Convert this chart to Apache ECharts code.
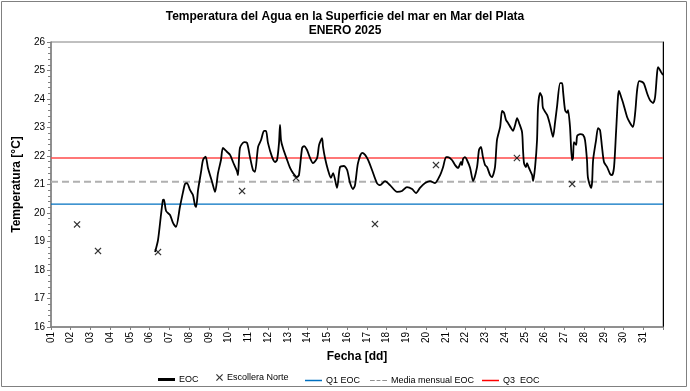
<!DOCTYPE html>
<html>
<head>
<meta charset="utf-8">
<script src="https://cdn.jsdelivr.net/npm/echarts@6/dist/echarts.min.js"></script>
<style>html,body{margin:0;padding:0;background:#fff}#c{width:690px;height:391px}</style>
</head>
<body>
<div id="c"></div>
<script>
// EOC (day of month, fractional) and temperature
const eocDay = [6.27,6.42,6.57,6.67,6.72,6.83,7.03,7.18,7.33,7.53,7.69,7.79,7.89,8.04,8.19,8.29,8.35,8.45,8.60,8.70,8.83,8.95,9.16,9.31,9.46,9.61,9.71,9.92,10.07,10.22,10.42,10.47,10.57,10.78,10.93,11.08,11.23,11.33,11.49,11.64,11.79,11.89,11.99,12.20,12.35,12.45,12.55,12.60,12.65,12.75,12.96,13.11,13.26,13.46,13.56,13.72,13.82,13.97,14.12,14.27,14.48,14.58,14.73,14.78,14.88,15.03,15.18,15.29,15.49,15.64,15.84,16.00,16.15,16.30,16.40,16.55,16.76,16.91,17.06,17.26,17.51,17.67,17.92,18.17,18.53,18.78,19.03,19.29,19.49,19.69,19.95,20.20,20.45,20.71,20.86,21.01,21.11,21.31,21.47,21.62,21.77,21.82,21.87,21.97,22.07,22.23,22.38,22.58,22.68,22.78,22.88,22.99,23.09,23.24,23.34,23.49,23.59,23.75,23.85,23.95,24.05,24.15,24.30,24.40,24.51,24.61,24.71,24.86,24.91,24.96,25.06,25.11,25.21,25.37,25.42,25.52,25.62,25.67,25.77,25.87,25.92,26.13,26.28,26.43,26.53,26.63,26.79,26.89,26.94,27.04,27.14,27.19,27.29,27.39,27.44,27.49,27.60,27.65,27.80,27.95,28.05,28.15,28.20,28.36,28.41,28.46,28.61,28.71,28.81,28.91,29.01,29.17,29.32,29.42,29.52,29.62,29.72,29.77,29.88,29.98,30.18,30.33,30.48,30.59,30.69,30.79,30.94,31.04,31.19,31.34,31.50,31.60,31.70,31.75,31.90,32.00];
const eocTemp = [18.63,19.05,19.93,20.46,20.47,20.07,19.93,19.65,19.51,20.21,20.74,21.02,21.05,20.81,20.63,20.28,20.21,20.81,21.44,21.86,21.98,21.58,21.09,20.74,21.40,21.86,22.28,22.14,22.04,21.79,21.47,21.33,22.28,22.49,22.46,21.96,21.51,21.44,22.32,22.56,22.88,22.88,22.46,21.96,21.79,21.86,22.46,23.09,22.56,22.28,21.86,21.58,21.40,21.26,21.33,22.28,22.35,22.21,21.93,21.75,21.93,22.39,22.63,22.32,21.93,21.51,21.23,21.40,20.88,21.61,21.65,21.51,21.05,20.84,20.98,21.75,22.11,22.04,21.86,21.51,21.05,20.98,21.12,20.98,20.74,20.77,20.91,20.84,20.70,20.88,21.05,21.12,21.05,21.33,21.61,21.96,21.96,21.86,21.68,21.58,21.79,21.68,21.89,21.96,21.86,21.58,21.12,21.61,22.21,22.32,21.96,21.68,21.61,21.33,21.26,21.61,22.56,23.02,23.58,23.51,23.26,23.16,22.98,22.88,23.09,23.33,23.16,22.84,22.21,21.75,21.61,21.75,21.58,21.33,21.12,21.61,22.56,23.72,24.21,24.07,23.68,23.44,23.09,22.67,23.16,23.72,24.56,24.56,24.25,23.61,23.51,23.61,23.02,21.86,21.93,22.49,22.39,22.70,22.77,22.74,22.56,21.86,21.23,20.88,21.09,21.86,22.56,22.98,22.91,22.32,21.79,21.61,21.37,21.33,21.61,22.81,24.07,24.28,24.07,23.86,23.37,23.16,23.02,23.51,24.32,24.63,24.60,24.53,24.21,23.96,23.86,24.07,24.91,25.12,24.95,24.84];
// Escollera Norte
const norteDay = [2.32,3.38,6.42,10.68,13.41,17.41,20.50,24.60,27.40];
const norteTemp = [19.6,18.67,18.63,20.77,21.23,19.61,21.68,21.93,21.02];
// reference levels
const q1EOC = 20.31;
const mediaMensualEOC = 21.10;
const q3EOC = 21.93;
const dayRange = [1, 32];
const yTicks = [16, 26];

const FONT = "'Liberation Sans Narrow','Arial Narrow','Liberation Sans',Arial,sans-serif";
const chart = echarts.init(document.getElementById('c'), null, {renderer: 'canvas'});
const xSym = 'path://M0,1.2L1.2,0L5,3.8L8.8,0L10,1.2L6.2,5L10,8.8L8.8,10L5,6.2L1.2,10L0,8.8L3.8,5Z';
const dashIcon = 'path://M0,0H5V1H0Z M7,0H11V1H7Z M13,0H18V1H13Z';

function leg(name, left, top, icon, w, h) {
  return {
    data: [name], left: left, top: top, icon: icon, itemWidth: w, itemHeight: h,
    itemGap: 4, padding: 0, textStyle: {fontFamily: FONT, fontSize: 9, color: '#000', padding: [0, 0, 0, -1]}
  };
}

chart.setOption({
  animation: false,
  backgroundColor: '#fff',
  textStyle: {fontFamily: FONT, color: '#000'},
  title: {
    text: 'Temperatura del Agua en la Superficie del mar en Mar del Plata\nENERO 2025',
    left: 'center', top: 5,
    textStyle: {fontFamily: FONT, fontSize: 12, fontWeight: 'bold', color: '#000', lineHeight: 14}
  },
  grid: {left: 51, right: 27, top: 42, bottom: 64, show: true, borderColor: '#808080', borderWidth: 1},
  legend: [
    leg('EOC', 158, 375, 'rect', 17, 3),
    leg('Escollera Norte', 216, 373, xSym, 7, 7),
    leg('Q1 EOC', 305, 376, 'rect', 17, 1.5),
    leg('Media mensual EOC', 370, 376, dashIcon, 17, 2),
    leg('Q3  EOC', 482, 376, 'rect', 17, 1.5)
  ],
  xAxis: {
    type: 'value', min: dayRange[0], max: dayRange[1], interval: 1,
    name: 'Fecha [dd]', nameLocation: 'middle', nameGap: 20,
    nameTextStyle: {fontFamily: FONT, fontSize: 12, fontWeight: 'bold', color: '#000'},
    axisLine: {lineStyle: {color: '#808080', width: 1.5}},
    axisTick: {lineStyle: {color: '#808080'}, length: 3},
    splitLine: {show: false},
    axisLabel: {
      rotate: 90, fontSize: 10, color: '#000', fontFamily: FONT, margin: 5,
      formatter: v => v >= dayRange[1] ? '' : String(v).padStart(2, '0')
    }
  },
  yAxis: [{
    type: 'value', min: yTicks[0], max: yTicks[1], interval: 1,
    name: 'Temperatura [°C]', nameLocation: 'middle', nameGap: 25,
    nameTextStyle: {fontFamily: FONT, fontSize: 12, fontWeight: 'bold', color: '#000'},
    axisLine: {show: true, lineStyle: {color: '#808080', width: 1.5}},
    axisTick: {show: true, length: 4, lineStyle: {color: '#808080'}},
    minorTick: {show: true, splitNumber: 5, length: 3, lineStyle: {color: '#808080'}},
    splitLine: {show: false},
    axisLabel: {fontSize: 10, color: '#000', fontFamily: FONT, margin: 6}
  }, {
    type: 'value', min: yTicks[0], max: yTicks[1], position: 'right',
    axisLine: {show: true, lineStyle: {color: '#000', width: 1}},
    axisTick: {show: false}, axisLabel: {show: false}, splitLine: {show: false}
  }],
  series: [
    {
      name: 'Q1 EOC', type: 'line', symbol: 'none', silent: true, z: 1,
      lineStyle: {color: '#0070c0', width: 1.2}, itemStyle: {color: '#0070c0'},
      data: dayRange.map(d => [d, q1EOC])
    },
    {
      name: 'Media mensual EOC', type: 'line', symbol: 'none', silent: true, z: 1,
      lineStyle: {color: '#b0b0b0', width: 2, type: [7, 4]}, itemStyle: {color: '#909090'},
      data: dayRange.map(d => [d, mediaMensualEOC])
    },
    {
      name: 'Q3  EOC', type: 'line', symbol: 'none', silent: true, z: 1,
      lineStyle: {color: '#ff4a4a', width: 1.5}, itemStyle: {color: '#ff0000'},
      data: dayRange.map(d => [d, q3EOC])
    },
    {
      name: 'EOC', type: 'line', symbol: 'none', smooth: 0.25, z: 3,
      lineStyle: {color: '#000', width: 1.8}, itemStyle: {color: '#000'},
      data: eocDay.map((d, i) => [d, eocTemp[i]])
    },
    {
      name: 'Escollera Norte', type: 'scatter', symbol: xSym, symbolSize: 7, z: 5,
      itemStyle: {color: '#000'},
      data: norteDay.map((d, i) => [d, norteTemp[i]])
    }
  ],
  graphic: [{
    type: 'rect', silent: true, z: -1,
    shape: {x: 1.5, y: 1.5, width: 685, height: 385},
    style: {fill: 'none', stroke: '#808080', lineWidth: 1}
  }]
});
</script>
</body>
</html>
